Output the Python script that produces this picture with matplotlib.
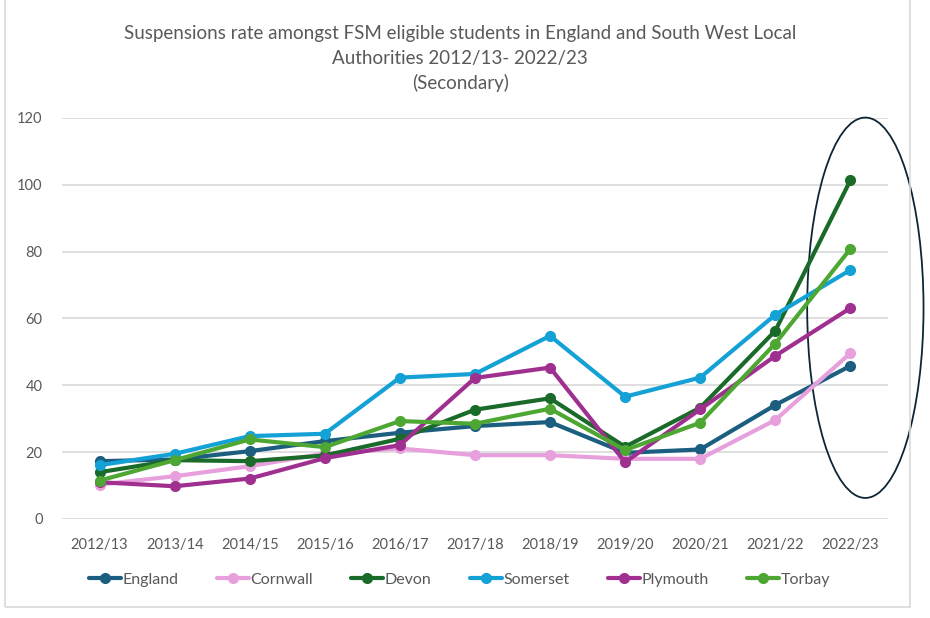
import matplotlib.pyplot as plt
from matplotlib.patches import Ellipse, Rectangle

plt.rcParams['font.family'] = ['Lato', 'DejaVu Sans']

years = ['2012/13', '2013/14', '2014/15', '2015/16', '2016/17', '2017/18',
         '2018/19', '2019/20', '2020/21', '2021/22', '2022/23']

england = [17.3, 17.8, 20.3, 23.3, 25.8, 27.8, 29.0, 19.8, 20.8, 34.1, 45.8]
cornwall = [10.3, 12.8, 15.8, 19.6, 21.1, 19.1, 19.1, 18.0, 18.0, 29.6, 49.6]
devon = [14.0, 17.6, 17.3, 19.0, 24.0, 32.7, 36.1, 21.6, 33.3, 56.3, 101.3]
somerset = [16.1, 19.5, 24.8, 25.5, 42.3, 43.4, 54.8, 36.6, 42.3, 61.1, 74.5]
plymouth = [11.0, 9.8, 12.1, 18.2, 22.1, 42.2, 45.3, 17.0, 32.8, 48.8, 63.1]
torbay = [11.5, 17.6, 23.8, 21.5, 29.3, 28.5, 33.0, 20.6, 28.8, 52.5, 80.8]

series = [
    ('England', england, '#1b5e80'),
    ('Cornwall', cornwall, '#e8a0dd'),
    ('Devon', devon, '#1a6b29'),
    ('Somerset', somerset, '#14a1d6'),
    ('Plymouth', plymouth, '#a0308f'),
    ('Torbay', torbay, '#4ea733'),
]

fig = plt.figure(figsize=(9.3, 6.18), dpi=100)
ax = fig.add_axes([0.0667, 0.1602, 0.888, 0.649])

x = list(range(len(years)))
for name, vals, col in series:
    ax.plot(x, vals, color=col, lw=3, marker='o', ms=7, label=name,
            solid_capstyle='round')

ax.set_xlim(-0.5, len(years) - 0.5)
ax.set_ylim(0, 120)
ax.set_yticks(range(0, 121, 20))
ax.set_xticks(x)
ax.set_xticklabels(years)
ax.grid(axis='y', color='#d9d9d9', lw=1.2)
ax.set_axisbelow(True)
for s in ax.spines.values():
    s.set_visible(False)
ax.tick_params(length=0, labelsize=10.5, colors='#595959')
ax.tick_params(axis='x', pad=14)
ax.tick_params(axis='y', pad=14)

# highlight around the last year
ell = Ellipse((10.2, 63.2), 1.55, 113.8, fill=False, edgecolor='#0d2636',
              lw=1.3, clip_on=False)
ax.add_patch(ell)

title_kw = dict(ha='center', va='center', fontsize=13.5, color='#595959')
fig.text(0.495, 0.946, 'Suspensions rate amongst FSM eligible students in England and South West Local', **title_kw)
fig.text(0.495, 0.906, 'Authorities 2012/13- 2022/23', **title_kw)
fig.text(0.495, 0.866, '(Secondary)', **title_kw)

leg = fig.legend(loc='center', bbox_to_anchor=(0.494, 0.062), ncol=6, frameon=False,
                 fontsize=11.5, handlelength=2.0, handletextpad=0.1, columnspacing=2.4,
                 labelcolor='#595959')

# chart border
fig.patches.append(Rectangle((5 / 930, 11 / 618), 905 / 930, 615 / 618, fill=False,
                             edgecolor='#d9d9d9', lw=1.2, transform=fig.transFigure))

fig.savefig('out.png', dpi=100)
